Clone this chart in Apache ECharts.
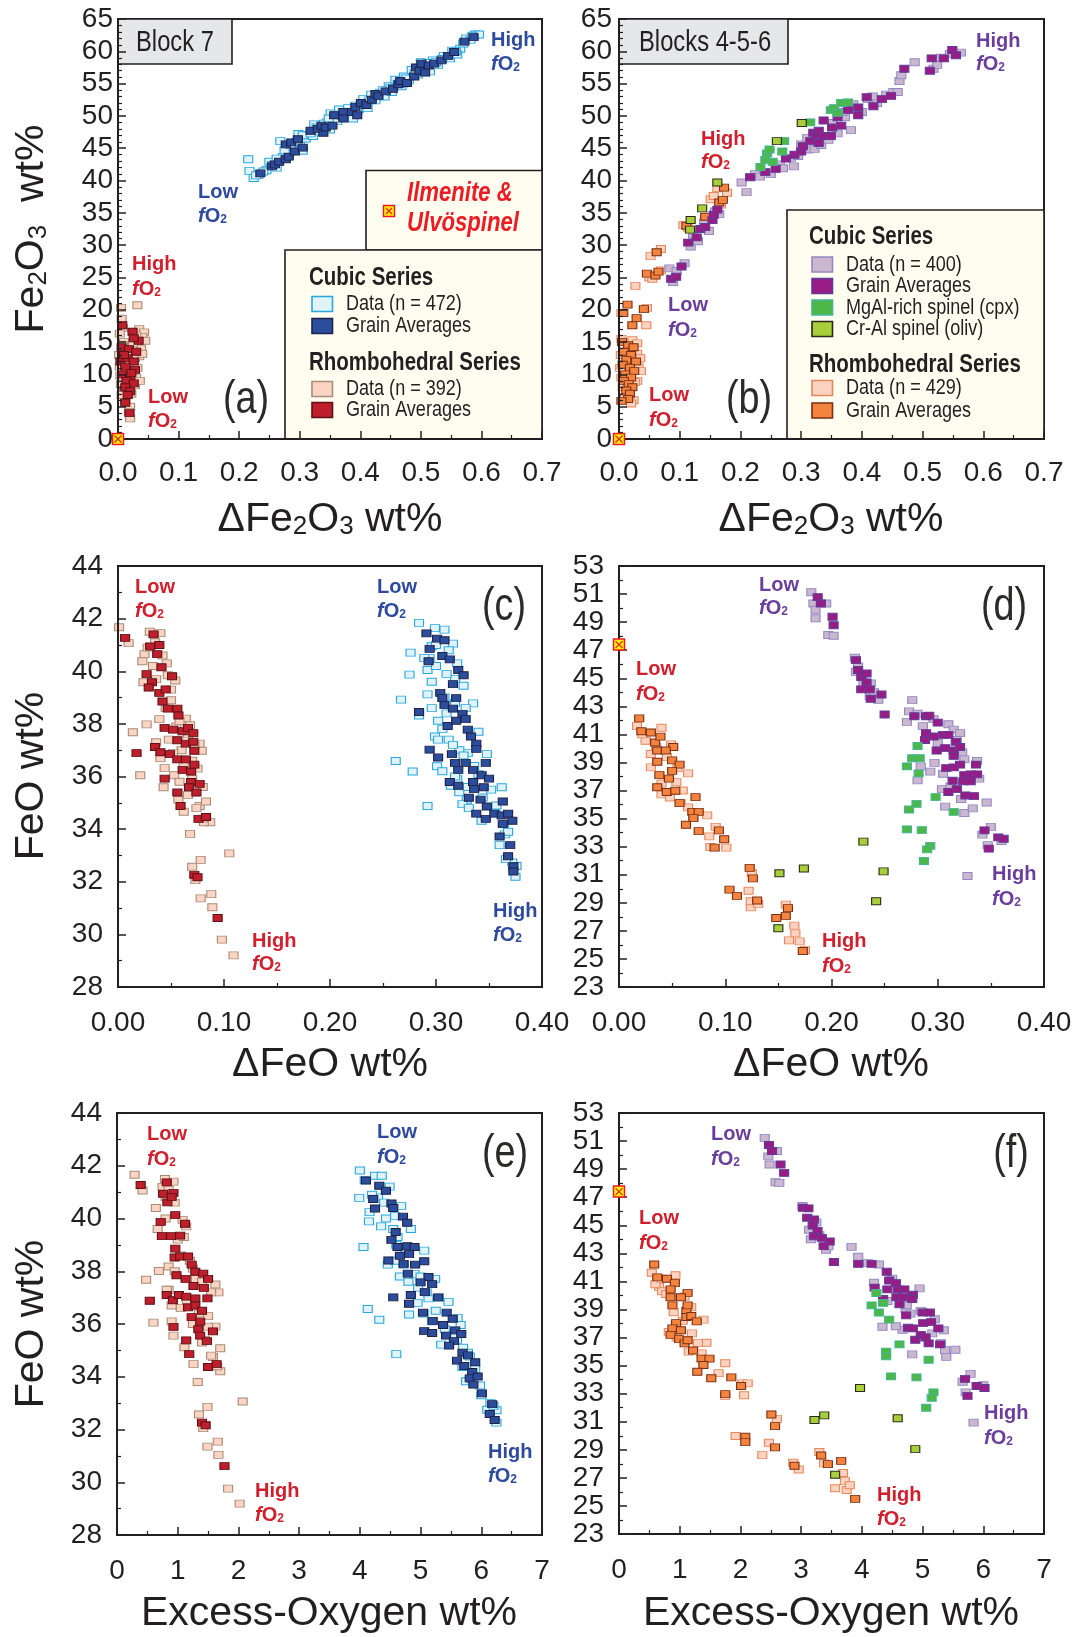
<!DOCTYPE html>
<html>
<head>
<meta charset="utf-8">
<script src="https://cdn.jsdelivr.net/npm/echarts@6/dist/echarts.min.js"></script>
<style>
html,body{margin:0;padding:0;background:#ffffff;}
#chart{width:1076px;height:1637px;}
</style>
</head>
<body>
<div id="chart"></div>
<script>
// ---------- Fonts and colours ----------
const INK = '#231F20';
const SANS = "'Liberation Sans',Arial,Helvetica,sans-serif";
const RED = '#D0202E', BLUE = '#2E4A9E', PURPLE = '#6A3E9C', ILM_RED = '#ED1C24';

// Condensed face for tick labels, keys and tabs; when no narrow face is
// installed the regular face is squeezed horizontally instead.
function fontAvailable(name) {
  const ctx = document.createElement('canvas').getContext('2d');
  const probe = 'Rhombohedral Series 0123456789';
  ctx.font = '40px monospace';
  const w1 = ctx.measureText(probe).width;
  ctx.font = "40px '" + name + "', monospace";
  const w2 = ctx.measureText(probe).width;
  return Math.abs(w1 - w2) > 0.5;
}
const HAS_NARROW = fontAvailable('Liberation Sans Narrow');
const NARROW = HAS_NARROW ? "'Liberation Sans Narrow',sans-serif" : SANS;
const CONDENSE = HAS_NARROW ? 1 : 0.82;
const TICK_FONT = HAS_NARROW ? 30 : 28;

// ---------- Block 7 : Fe2O3 vs dFe2O3 ----------
const blockA_rhombData = [[0.005,20.3],[0.032,20.7],[0.006,18.6],[0.008,17.2],[0.035,17.0],[0.043,16.5],[0.040,15.8],[0.045,15.2],[0.003,16.3],[0.030,16.0],[0.010,15.0],[0.038,14.0],[0.002,13.0],[0.035,12.8],[0.028,12.5],[0.003,11.2],[0.032,11.0],[0.025,10.3],[0.004,9.8],[0.030,9.5],[0.015,9.0],[0.005,8.5],[0.028,8.3],[0.010,7.5],[0.022,7.0],[0.012,6.2],[0.020,5.0],[0.018,4.2],[0.020,3.2],[0.008,14.5],[0.025,14.8],[0.016,12.0],[0.012,10.5],[0.040,13.2],[0.036,9.0],[0.006,6.8]];
const blockA_rhombAvg = [[0.007,17.6],[0.024,16.6],[0.034,15.2],[0.026,15.6],[0.006,14.2],[0.018,13.9],[0.030,13.5],[0.004,12.0],[0.016,12.5],[0.026,12.0],[0.012,11.2],[0.028,10.7],[0.008,10.0],[0.020,9.6],[0.014,9.0],[0.026,8.6],[0.012,8.0],[0.020,7.4],[0.016,6.8],[0.012,5.6],[0.019,4.0],[0.022,10.2],[0.010,13.0]];
const blockA_cubicData = [[0.215,43.3],[0.217,41.5],[0.224,40.4],[0.232,40.9],[0.245,41.6],[0.250,42.9],[0.262,42.0],[0.268,46.1],[0.272,43.6],[0.280,44.2],[0.290,45.3],[0.298,47.2],[0.300,45.8],[0.310,46.5],[0.315,47.0],[0.322,46.9],[0.324,48.7],[0.333,47.6],[0.345,49.0],[0.351,50.4],[0.350,47.9],[0.362,49.2],[0.365,51.0],[0.378,49.9],[0.380,51.2],[0.388,49.6],[0.398,51.1],[0.405,52.6],[0.412,51.2],[0.418,53.3],[0.425,52.4],[0.433,53.6],[0.440,53.0],[0.447,54.6],[0.452,53.7],[0.458,55.6],[0.468,54.6],[0.472,56.1],[0.480,55.5],[0.485,57.1],[0.495,56.4],[0.500,58.3],[0.505,57.4],[0.515,56.9],[0.520,58.6],[0.528,57.9],[0.538,59.3],[0.548,58.9],[0.552,60.1],[0.565,60.4],[0.575,62.0],[0.582,61.8],[0.590,62.6],[0.596,62.6],[0.560,59.5],[0.470,55.0],[0.395,50.8],[0.340,48.8],[0.305,44.6],[0.228,40.8],[0.240,41.4],[0.255,42.4],[0.262,43.4],[0.275,44.7],[0.285,45.5],[0.295,46.0],[0.305,47.0],[0.318,47.3],[0.328,48.2],[0.338,48.3],[0.348,49.6],[0.360,50.2],[0.370,50.0],[0.383,50.6],[0.392,51.6],[0.403,51.8],[0.415,52.4],[0.428,53.2],[0.438,54.0],[0.450,54.3],[0.462,55.0],[0.475,55.8],[0.490,56.6],[0.503,57.6],[0.512,58.2],[0.525,58.3],[0.535,58.8],[0.558,60.0],[0.570,61.2],[0.585,62.4]];
const blockA_cubicAvg = [[0.235,41.1],[0.254,42.2],[0.259,42.5],[0.266,42.9],[0.277,43.3],[0.282,43.7],[0.292,44.5],[0.305,45.1],[0.277,45.6],[0.286,45.9],[0.297,46.4],[0.318,47.7],[0.330,48.0],[0.339,47.4],[0.336,48.5],[0.343,48.2],[0.354,48.5],[0.357,50.1],[0.372,50.6],[0.372,49.6],[0.386,50.6],[0.395,50.1],[0.392,51.4],[0.401,52.0],[0.410,51.7],[0.419,52.5],[0.425,53.4],[0.430,53.1],[0.442,53.8],[0.454,54.2],[0.463,54.9],[0.466,55.4],[0.477,55.1],[0.489,56.1],[0.492,57.5],[0.498,57.0],[0.501,58.1],[0.507,56.7],[0.513,57.8],[0.522,58.1],[0.534,58.6],[0.545,59.3],[0.555,59.9],[0.572,61.5],[0.587,62.2]];
const blockA_ilmenite = [[0, 0]];

// ---------- Blocks 4-5-6 : Fe2O3 vs dFe2O3 ----------
const blockB_rhombData = [[0.004,15.5],[0.022,15.3],[0.030,14.8],[0.003,13.0],[0.030,13.2],[0.035,12.5],[0.002,11.0],[0.032,11.2],[0.036,10.5],[0.004,9.5],[0.030,9.0],[0.006,8.0],[0.026,8.8],[0.014,7.8],[0.010,6.5],[0.024,6.0],[0.020,5.5],[0.004,19.5],[0.046,20.3],[0.045,17.6],[0.027,23.7],[0.050,25.0],[0.069,26.1],[0.055,24.8],[0.052,28.3],[0.069,29.4],[0.106,33.1],[0.114,32.6],[0.151,37.1],[0.156,37.6],[0.162,38.8],[0.178,38.1],[0.168,36.3]];
const blockB_rhombAvg = [[0.005,15.0],[0.015,14.5],[0.024,14.2],[0.008,13.5],[0.020,13.0],[0.012,12.2],[0.028,12.0],[0.006,11.5],[0.018,11.0],[0.025,10.5],[0.010,10.0],[0.020,9.5],[0.008,9.0],[0.016,8.5],[0.022,8.0],[0.012,7.5],[0.018,7.0],[0.015,6.2],[0.004,5.9],[0.014,20.8],[0.007,19.5],[0.022,17.6],[0.029,18.7],[0.041,20.1],[0.046,25.6],[0.060,25.3],[0.065,25.9],[0.062,28.9],[0.111,33.0],[0.142,34.4],[0.165,36.6],[0.171,37.0],[0.173,38.9]];
const blockB_cubicData = [[0.083,26.4],[0.089,24.3],[0.095,26.0],[0.108,27.2],[0.118,29.8],[0.122,31.6],[0.130,30.6],[0.140,33.5],[0.148,32.2],[0.158,35.2],[0.165,34.8],[0.202,39.7],[0.210,38.2],[0.224,41.0],[0.232,40.6],[0.250,41.0],[0.265,42.5],[0.270,41.9],[0.283,43.5],[0.295,43.8],[0.300,45.6],[0.311,44.8],[0.322,44.9],[0.333,45.5],[0.345,46.3],[0.352,48.9],[0.360,47.3],[0.372,49.8],[0.382,47.8],[0.386,51.8],[0.400,50.6],[0.410,52.6],[0.425,52.0],[0.440,53.3],[0.452,53.7],[0.459,53.7],[0.462,55.4],[0.465,56.3],[0.487,58.3],[0.518,57.3],[0.524,57.9],[0.545,59.6],[0.563,59.8],[0.530,59.0],[0.418,53.0],[0.368,50.6],[0.310,46.6],[0.288,42.2]];
const blockB_cubicAvg = [[0.086,24.8],[0.094,25.1],[0.103,26.7],[0.114,30.4],[0.128,31.2],[0.134,32.5],[0.142,32.8],[0.154,33.9],[0.156,34.7],[0.162,35.5],[0.216,40.5],[0.241,41.3],[0.258,41.8],[0.275,43.4],[0.289,44.0],[0.300,44.5],[0.303,45.3],[0.315,46.1],[0.320,47.4],[0.326,47.0],[0.329,45.8],[0.329,47.7],[0.337,46.9],[0.337,49.3],[0.349,46.9],[0.351,48.2],[0.360,49.8],[0.366,48.5],[0.377,50.9],[0.394,50.1],[0.394,51.3],[0.408,52.9],[0.419,51.5],[0.433,52.6],[0.448,53.1],[0.470,57.3],[0.512,57.0],[0.515,58.9],[0.535,58.9],[0.549,60.2],[0.555,59.4]];
const blockB_mgAl = [[0.233,42.1],[0.241,43.2],[0.244,44.2],[0.248,44.8],[0.253,42.9],[0.269,44.5],[0.272,46.1],[0.315,49.0],[0.349,50.9],[0.354,51.2],[0.360,50.5],[0.366,52.0],[0.377,52.1]];
const blockB_crAl = [[0.117,32.4],[0.118,33.9],[0.137,35.7],[0.162,39.7],[0.260,46.1],[0.301,48.9]];
const blockB_ilmenite = [[0, 0]];

// ---------- Block 7 : FeO vs dFeO ----------
const blockC_rhombData = [[0.001,41.67],[0.010,41.07],[0.030,41.50],[0.040,41.45],[0.025,40.65],[0.023,40.38],[0.024,39.58],[0.047,39.85],[0.054,39.65],[0.036,39.70],[0.039,38.18],[0.027,37.98],[0.014,37.68],[0.021,36.05],[0.044,36.32],[0.043,35.59],[0.053,36.05],[0.057,35.12],[0.062,34.66],[0.077,34.88],[0.083,35.05],[0.087,34.26],[0.081,34.26],[0.068,33.82],[0.078,32.83],[0.070,32.57],[0.073,32.06],[0.105,33.08],[0.088,31.53],[0.078,31.37],[0.089,31.03],[0.098,29.80],[0.109,29.20],[0.077,37.25],[0.079,36.98],[0.064,38.20],[0.050,38.90],[0.060,37.00],[0.075,36.30],[0.048,37.40],[0.068,37.95],[0.080,35.60],[0.058,35.80],[0.046,40.30],[0.033,40.20],[0.070,36.60],[0.055,37.90],[0.035,41.10],[0.028,40.90],[0.042,40.60],[0.050,39.30],[0.045,38.60],[0.058,38.10],[0.066,37.60],[0.072,37.20],[0.052,36.90],[0.062,36.40],[0.070,35.90],[0.066,35.30],[0.074,34.80],[0.080,34.40],[0.036,37.30],[0.040,36.70]];
const blockC_rhombAvg = [[0.0067,41.27],[0.0336,41.40],[0.0303,40.94],[0.039,41.0],[0.037,40.65],[0.041,40.15],[0.027,39.89],[0.032,39.58],[0.029,39.38],[0.039,39.18],[0.045,39.31],[0.051,39.81],[0.042,38.85],[0.047,38.58],[0.056,38.58],[0.057,38.32],[0.044,37.85],[0.052,37.78],[0.061,37.72],[0.066,37.85],[0.071,37.65],[0.056,37.38],[0.064,37.25],[0.071,37.32],[0.035,37.12],[0.040,36.92],[0.049,36.85],[0.056,36.65],[0.064,36.65],[0.072,36.98],[0.061,36.25],[0.069,36.19],[0.072,36.45],[0.044,35.92],[0.069,35.79],[0.077,35.72],[0.067,35.59],[0.074,35.39],[0.056,35.39],[0.059,34.88],[0.076,34.39],[0.083,34.46],[0.0175,36.89],[0.072,32.26],[0.075,32.17],[0.094,30.62]];
const blockC_cubicData = [[0.284,41.84],[0.276,40.71],[0.275,39.87],[0.292,40.05],[0.292,39.12],[0.267,38.92],[0.262,36.59],[0.278,36.19],[0.292,34.88],[0.284,38.32],[0.302,38.12],[0.301,36.39],[0.299,37.52],[0.314,35.65],[0.312,37.40],[0.322,35.40],[0.329,35.10],[0.325,34.95],[0.348,36.85],[0.362,35.59],[0.335,38.78],[0.326,39.45],[0.318,39.70],[0.316,41.05],[0.308,41.58],[0.299,41.64],[0.296,40.95],[0.294,40.50],[0.365,33.80],[0.360,33.39],[0.372,32.73],[0.375,32.19],[0.366,32.86],[0.376,32.60],[0.343,34.32],[0.331,34.80],[0.320,35.90],[0.306,36.20],[0.302,37.40],[0.296,38.60],[0.310,39.90],[0.300,41.00],[0.289,40.50],[0.330,36.90],[0.340,37.70],[0.352,35.50],[0.357,34.90],[0.368,33.90],[0.310,38.40],[0.322,37.00],[0.300,40.20],[0.312,40.80],[0.320,40.30],[0.296,39.60],[0.308,39.00],[0.318,38.80],[0.328,38.60],[0.306,37.80],[0.316,37.20],[0.326,36.80],[0.336,36.40],[0.318,36.00],[0.330,35.60],[0.344,35.20],[0.356,34.60],[0.364,34.20],[0.340,36.10]];
const blockC_cubicAvg = [[0.291,41.44],[0.301,41.24],[0.308,41.18],[0.294,40.85],[0.306,40.58],[0.293,40.38],[0.313,40.45],[0.321,40.05],[0.326,39.85],[0.316,39.51],[0.304,39.18],[0.306,38.98],[0.319,38.98],[0.308,38.72],[0.316,38.58],[0.325,38.38],[0.284,38.45],[0.311,37.92],[0.319,38.12],[0.328,38.18],[0.330,37.78],[0.333,37.52],[0.338,37.25],[0.338,37.05],[0.294,37.02],[0.302,36.72],[0.315,36.85],[0.318,36.52],[0.328,36.52],[0.321,36.25],[0.335,36.25],[0.347,36.52],[0.313,35.79],[0.321,35.65],[0.335,35.79],[0.343,36.05],[0.350,35.92],[0.331,35.19],[0.336,35.52],[0.345,35.59],[0.342,35.12],[0.348,34.86],[0.338,34.59],[0.347,34.39],[0.355,34.59],[0.363,35.05],[0.362,34.52],[0.368,34.59],[0.372,34.32],[0.363,34.19],[0.360,33.72],[0.370,33.39],[0.368,32.97],[0.373,32.59],[0.373,32.39]];

// ---------- Blocks 4-5-6 : FeO vs dFeO ----------
const blockD_rhombData = [[0.017,41.59],[0.025,40.55],[0.040,41.47],[0.049,40.29],[0.030,38.65],[0.065,38.22],[0.054,37.60],[0.040,36.73],[0.058,36.10],[0.083,35.23],[0.085,33.73],[0.086,32.98],[0.101,32.93],[0.091,34.41],[0.122,29.86],[0.124,28.67],[0.124,29.11],[0.131,28.92],[0.125,31.11],[0.165,27.37],[0.166,26.82],[0.160,26.32],[0.170,26.25],[0.175,25.62],[0.157,28.87],[0.022,41.00],[0.035,40.10],[0.045,39.40],[0.030,39.60],[0.055,38.60],[0.040,37.50],[0.060,37.00],[0.048,36.50],[0.065,35.80],[0.070,35.20]];
const blockD_rhombAvg = [[0.019,42.14],[0.021,41.22],[0.030,41.14],[0.034,40.42],[0.039,40.84],[0.051,40.10],[0.036,39.85],[0.044,39.85],[0.036,39.05],[0.050,39.15],[0.057,38.85],[0.050,38.40],[0.038,38.10],[0.047,37.85],[0.036,37.23],[0.045,36.90],[0.053,36.98],[0.057,36.10],[0.072,36.53],[0.069,35.48],[0.075,35.48],[0.070,35.03],[0.063,34.56],[0.075,34.11],[0.094,34.16],[0.099,33.53],[0.090,32.93],[0.123,31.49],[0.126,30.74],[0.104,29.94],[0.111,29.49],[0.130,29.16],[0.148,27.92],[0.157,28.07],[0.159,28.62],[0.173,25.57]];
const blockD_cubicData = [[0.181,51.13],[0.183,50.33],[0.185,49.88],[0.185,49.28],[0.195,50.33],[0.197,48.08],[0.202,48.03],[0.222,46.46],[0.225,45.84],[0.223,45.46],[0.230,44.59],[0.237,44.64],[0.236,43.72],[0.244,43.47],[0.276,43.44],[0.273,42.64],[0.271,41.89],[0.281,42.47],[0.286,41.59],[0.296,42.09],[0.310,41.72],[0.315,41.34],[0.321,41.09],[0.323,39.72],[0.325,39.22],[0.297,38.97],[0.293,38.35],[0.281,37.72],[0.284,38.72],[0.337,39.10],[0.339,37.85],[0.304,37.10],[0.307,35.85],[0.325,35.40],[0.333,35.73],[0.346,36.15],[0.350,34.41],[0.342,33.86],[0.347,33.11],[0.328,30.91],[0.360,33.40],[0.322,36.40],[0.300,40.40],[0.318,40.60],[0.305,38.20],[0.312,37.30],[0.330,37.90],[0.240,44.00],[0.229,45.10]];
const blockD_cubicAvg = [[0.187,50.78],[0.190,50.33],[0.201,49.38],[0.202,48.78],[0.223,46.29],[0.225,45.59],[0.228,45.09],[0.233,45.34],[0.233,44.71],[0.228,44.21],[0.236,44.21],[0.247,43.84],[0.237,43.54],[0.250,42.42],[0.278,42.29],[0.289,42.29],[0.292,42.34],[0.300,41.84],[0.289,41.09],[0.296,40.85],[0.305,40.97],[0.310,40.97],[0.317,40.47],[0.288,40.60],[0.307,40.02],[0.299,39.85],[0.315,39.85],[0.321,40.10],[0.315,39.47],[0.321,38.85],[0.336,38.85],[0.308,38.60],[0.315,38.65],[0.325,38.10],[0.331,38.15],[0.337,38.15],[0.314,37.70],[0.324,37.65],[0.331,37.65],[0.310,36.90],[0.318,37.10],[0.326,36.65],[0.334,36.60],[0.344,34.16],[0.357,33.66],[0.362,33.56],[0.348,32.86]];
const blockD_mgAl = [[0.281,40.17],[0.276,39.30],[0.283,39.30],[0.271,38.72],[0.282,38.22],[0.298,36.53],[0.280,36.05],[0.273,35.65],[0.315,35.48],[0.271,34.23],[0.285,34.18],[0.293,33.06],[0.290,32.81],[0.287,31.98]];
const blockD_crAl = [[0.230,33.36],[0.151,31.11],[0.174,31.44],[0.249,31.24],[0.242,29.11],[0.150,27.19]];
const blockD_ilmenite = [[0, 47.4]];

// ---------- Block 7 : FeO vs excess oxygen ----------
const blockE_rhombData = [[0.29,41.66],[0.42,41.06],[0.79,41.50],[0.93,41.40],[0.64,40.40],[0.67,39.60],[1.08,39.95],[1.14,39.70],[0.85,38.18],[0.69,38.01],[0.48,37.68],[0.60,36.05],[0.90,36.10],[0.93,35.56],[1.11,35.12],[1.58,34.75],[1.70,35.08],[1.26,34.48],[1.70,34.21],[1.33,33.80],[1.49,32.86],[1.35,32.57],[1.42,32.05],[2.07,33.06],[1.66,31.54],[1.49,31.35],[1.67,31.04],[1.83,29.76],[2.02,29.19],[1.67,37.20],[1.62,37.50],[1.50,36.30],[1.25,36.00],[1.05,36.60],[0.85,37.30],[1.20,38.40],[1.00,39.20],[0.80,40.00],[1.45,35.40],[1.62,35.90],[1.30,37.70],[0.75,41.20],[0.95,38.00],[0.85,41.10],[0.80,40.80],[0.95,40.60],[1.10,39.30],[1.05,38.60],[1.25,38.10],[1.40,37.60],[1.55,37.20],[1.15,36.90],[1.35,36.40],[1.50,35.90],[1.40,35.30],[1.55,34.80],[1.65,34.40],[0.82,37.30],[0.90,36.70]];
const blockE_rhombAvg = [[0.39,41.27],[0.82,41.37],[0.93,40.97],[0.76,40.94],[0.83,40.61],[0.90,40.81],[0.96,40.13],[1.12,39.80],[0.72,39.87],[0.74,39.33],[0.89,39.33],[1.04,39.35],[0.96,38.86],[0.95,38.52],[1.04,38.56],[1.17,38.56],[1.23,38.25],[0.98,37.85],[1.13,37.71],[1.29,37.98],[1.42,37.91],[1.50,37.71],[1.26,37.44],[1.43,37.37],[0.82,37.10],[0.92,36.90],[1.02,37.10],[1.14,37.04],[1.29,36.97],[1.49,36.97],[1.17,36.63],[1.29,36.70],[1.40,36.50],[1.23,36.26],[1.37,36.09],[0.93,35.89],[1.34,35.80],[1.37,35.56],[1.58,35.72],[1.48,35.35],[1.14,35.38],[1.19,34.86],[1.50,34.37],[1.64,34.48],[0.54,36.88],[1.40,32.26],[1.46,32.16],[1.77,30.61]];
const blockE_cubicData = [[4.00,41.82],[4.08,41.45],[3.99,40.78],[4.16,40.24],[4.15,39.89],[4.25,41.62],[4.36,41.62],[4.49,41.21],[4.68,40.47],[4.84,39.60],[4.06,38.92],[4.13,36.57],[4.32,36.16],[4.60,34.86],[4.46,38.25],[4.66,37.80],[4.81,36.36],[5.06,38.78],[5.24,37.71],[5.19,36.10],[5.46,36.84],[5.34,35.22],[5.61,36.23],[5.66,35.96],[5.78,34.91],[5.81,34.77],[5.69,34.37],[5.87,34.10],[5.75,33.83],[5.98,33.67],[6.10,32.75],[6.25,32.73],[6.25,32.26],[6.20,32.90],[5.84,33.90],[5.60,35.40],[5.37,35.96],[5.13,36.97],[4.96,37.38],[4.72,38.25],[4.55,39.60],[4.43,40.00],[4.30,40.80],[4.90,37.90],[5.30,37.00],[5.50,35.60],[5.05,36.40],[4.60,39.00],[4.20,40.90],[4.40,40.60],[4.58,40.10],[4.35,39.70],[4.62,39.30],[4.75,38.70],[4.58,38.40],[4.80,37.60],[5.00,37.80],[5.10,37.20],[4.95,36.80],[5.25,36.50],[5.40,35.80],[5.55,35.50],[5.70,35.10],[5.90,34.30],[6.00,33.30],[6.15,33.00]];
const blockE_cubicAvg = [[4.10,41.44],[4.32,41.24],[4.43,41.05],[4.22,40.74],[4.25,40.38],[4.52,40.57],[4.55,40.40],[4.71,40.07],[4.78,39.84],[4.59,39.49],[4.52,39.19],[4.62,38.92],[4.78,38.95],[4.90,38.92],[4.66,38.59],[4.81,38.65],[4.47,38.41],[4.91,38.25],[5.06,38.38],[4.72,38.28],[4.79,37.91],[5.13,37.78],[5.00,37.58],[5.19,37.51],[5.07,37.21],[5.29,37.01],[4.55,37.01],[4.84,37.10],[4.81,36.77],[5.04,36.43],[5.20,36.12],[5.43,36.43],[5.53,36.20],[5.37,35.96],[5.06,35.73],[5.19,35.66],[5.42,35.56],[5.57,35.76],[5.67,35.62],[5.55,35.35],[5.47,35.18],[5.69,34.91],[5.60,34.61],[5.78,34.81],[5.90,34.55],[5.72,34.41],[5.85,34.18],[5.81,33.94],[5.94,34.01],[5.87,33.70],[6.01,33.37],[6.18,32.96],[6.14,32.59],[6.22,32.36]];

// ---------- Blocks 4-5-6 : FeO vs excess oxygen ----------
const blockF_rhombData = [[0.54,41.62],[0.66,40.61],[0.93,41.44],[1.08,39.92],[0.71,40.30],[1.19,39.16],[1.39,38.28],[1.44,36.63],[1.36,35.87],[1.75,35.17],[2.03,33.73],[1.75,32.84],[2.12,33.73],[2.06,32.89],[1.92,29.98],[2.36,28.62],[2.47,29.50],[2.60,31.20],[2.87,28.08],[2.96,27.60],[3.30,28.84],[3.38,28.03],[3.69,27.35],[3.72,26.77],[3.56,26.26],[3.75,26.14],[3.80,26.47],[1.64,34.46],[0.60,40.80],[0.78,40.10],[0.90,38.80],[0.82,37.40],[0.95,37.00],[1.05,38.20],[1.20,37.30],[1.30,36.60],[1.15,36.00],[0.70,41.20]];
const blockF_rhombAvg = [[0.58,42.20],[0.63,41.29],[0.79,41.19],[0.92,40.88],[0.85,40.43],[1.13,40.18],[0.85,39.87],[1.02,39.87],[0.88,39.29],[1.11,38.91],[1.13,39.29],[1.11,38.46],[1.19,38.53],[1.28,38.15],[0.94,38.03],[0.88,37.65],[1.02,37.52],[0.85,37.19],[0.99,36.89],[1.08,36.58],[1.13,36.81],[1.22,36.08],[1.36,35.50],[1.49,35.50],[1.39,35.04],[1.29,34.56],[1.52,34.10],[1.85,34.16],[2.01,33.55],[1.75,32.97],[2.51,31.52],[2.57,30.69],[2.08,29.93],[2.08,29.55],[2.57,29.17],[2.89,27.86],[3.33,28.59],[3.44,27.98],[3.66,28.21],[3.89,25.50]];
const blockF_cubicData = [[2.40,51.23],[2.46,49.91],[2.48,49.33],[2.58,48.07],[2.64,48.02],[2.60,50.29],[3.02,46.37],[3.13,44.68],[3.30,44.30],[3.16,44.00],[3.41,43.26],[3.83,43.46],[3.94,42.76],[4.10,42.30],[4.28,42.20],[4.34,37.77],[4.20,40.90],[4.42,39.60],[4.72,39.00],[4.74,39.30],[4.83,35.80],[4.80,38.70],[4.97,38.90],[5.35,37.52],[5.39,35.62],[5.54,36.13],[5.37,36.10],[5.79,34.41],[5.66,33.85],[5.71,33.09],[5.84,30.94],[5.16,37.30],[4.67,37.55],[4.56,37.80],[4.50,41.20],[4.95,40.50],[5.20,38.30],[5.00,37.00],[5.30,36.60],[3.25,45.20],[3.45,43.50],[6.00,33.60]];
const blockF_cubicAvg = [[2.47,50.72],[2.52,50.29],[2.66,49.33],[2.72,48.73],[3.03,46.25],[3.12,46.20],[3.10,45.54],[3.21,45.41],[3.19,44.98],[3.27,44.60],[3.21,44.22],[3.34,44.10],[3.47,43.84],[3.37,43.51],[3.54,42.38],[3.94,42.25],[4.16,42.25],[4.41,41.69],[4.45,41.06],[4.21,40.56],[4.56,40.88],[4.42,40.43],[4.59,40.43],[4.70,40.43],[4.84,40.05],[4.35,39.75],[4.57,39.87],[4.69,39.87],[4.83,39.75],[4.62,39.37],[4.73,38.58],[5.00,38.78],[5.12,38.78],[4.76,37.70],[4.84,37.65],[5.01,38.03],[5.14,38.10],[5.26,37.65],[4.97,37.19],[4.88,36.84],[5.05,37.01],[5.10,36.58],[5.29,36.51],[5.70,34.05],[5.74,32.84],[5.89,33.55],[6.02,33.40]];
const blockF_mgAl = [[4.24,40.17],[4.35,39.47],[4.16,39.29],[4.28,38.78],[4.45,38.28],[4.62,36.51],[4.40,36.00],[4.40,35.67],[5.10,35.42],[4.48,34.23],[4.90,34.16],[5.18,33.09],[5.15,32.71],[5.06,32.00]];
const blockF_crAl = [[3.97,33.40],[3.22,31.12],[3.38,31.45],[4.59,31.25],[4.88,29.05],[3.56,27.22]];
const blockF_ilmenite = [[0, 47.4]];

// ---------- Axis ticks ----------
const oddFeO = [23,25,27,29,31,33,35,37,39,41,43,45,47,49,51,53];
const evenFeO = [24,26,28,30,32,34,36,38,40,42,44,46,48,50,52];

// ---------- Marker styles ----------
const STYLE = {
  cubicData:  {color:'#E1F2F9', borderColor:'#27A8E0'},
  cubicAvg:   {color:'#2C4C9C', borderColor:'#1D2348'},
  rhombData:  {color:'#FBD4C4', borderColor:'#A98C78'},
  rhombAvg:   {color:'#BF1E2D', borderColor:'#5E1114'},
  cubicData2: {color:'#CBB8CF', borderColor:'#9488C4'},
  cubicAvg2:  {color:'#981C86', borderColor:'#5E3D98'},
  mgAl:       {color:'#4DB848', borderColor:'#44B59A'},
  crAl:       {color:'#A8CF3A', borderColor:'#2A2A1C'},
  rhombData2: {color:'#FCD3C1', borderColor:'#E8875D'},
  rhombAvg2:  {color:'#F3843F', borderColor:'#7C2E12'}
};

const GRIDS = [
  {left:118, top:19,   width:424, height:420},
  {left:619, top:19,   width:425, height:420},
  {left:118, top:566,  width:424, height:421},
  {left:619, top:566,  width:425, height:421},
  {left:117, top:1113, width:425, height:422},
  {left:619, top:1113, width:425, height:421}
];

function scatter(data, st, g, z) {
  return {
    type:'scatter', xAxisIndex:g, yAxisIndex:g, data:data, symbol:'rect', symbolSize:[9,7],
    clip:false, silent:true, z:z, animation:false,
    itemStyle:{color:st.color, borderColor:st.borderColor, borderWidth:1, opacity:1}
  };
}
function ilmenite(data, g) {
  return [
    {type:'scatter', xAxisIndex:g, yAxisIndex:g, data:data, symbol:'rect', symbolSize:11, clip:false, silent:true, z:6,
     itemStyle:{color:'#FFF200', borderColor:ILM_RED, borderWidth:1.5, opacity:1}},
    {type:'scatter', xAxisIndex:g, yAxisIndex:g, data:data, symbol:'path://M0,0L10,10M10,0L0,10', symbolSize:7, clip:false, silent:true, z:7,
     itemStyle:{color:'rgba(0,0,0,0)', borderColor:ILM_RED, borderWidth:1.3, opacity:1}}
  ];
}

const series = [].concat(
  scatter(blockA_rhombData, STYLE.rhombData, 0, 2),
  scatter(blockA_rhombAvg, STYLE.rhombAvg, 0, 3),
  scatter(blockA_cubicData, STYLE.cubicData, 0, 2),
  scatter(blockA_cubicAvg, STYLE.cubicAvg, 0, 3),
  ilmenite(blockA_ilmenite, 0),

  scatter(blockB_rhombData, STYLE.rhombData2, 1, 2),
  scatter(blockB_rhombAvg, STYLE.rhombAvg2, 1, 3),
  scatter(blockB_cubicData, STYLE.cubicData2, 1, 2),
  scatter(blockB_cubicAvg, STYLE.cubicAvg2, 1, 3),
  scatter(blockB_mgAl, STYLE.mgAl, 1, 4),
  scatter(blockB_crAl, STYLE.crAl, 1, 4),
  ilmenite(blockB_ilmenite, 1),

  scatter(blockC_rhombData, STYLE.rhombData, 2, 2),
  scatter(blockC_rhombAvg, STYLE.rhombAvg, 2, 3),
  scatter(blockC_cubicData, STYLE.cubicData, 2, 2),
  scatter(blockC_cubicAvg, STYLE.cubicAvg, 2, 3),

  scatter(blockD_rhombData, STYLE.rhombData2, 3, 2),
  scatter(blockD_rhombAvg, STYLE.rhombAvg2, 3, 3),
  scatter(blockD_cubicData, STYLE.cubicData2, 3, 2),
  scatter(blockD_cubicAvg, STYLE.cubicAvg2, 3, 3),
  scatter(blockD_mgAl, STYLE.mgAl, 3, 4),
  scatter(blockD_crAl, STYLE.crAl, 3, 4),
  ilmenite(blockD_ilmenite, 3),

  scatter(blockE_rhombData, STYLE.rhombData, 4, 2),
  scatter(blockE_rhombAvg, STYLE.rhombAvg, 4, 3),
  scatter(blockE_cubicData, STYLE.cubicData, 4, 2),
  scatter(blockE_cubicAvg, STYLE.cubicAvg, 4, 3),

  scatter(blockF_rhombData, STYLE.rhombData2, 5, 2),
  scatter(blockF_rhombAvg, STYLE.rhombAvg2, 5, 3),
  scatter(blockF_cubicData, STYLE.cubicData2, 5, 2),
  scatter(blockF_cubicAvg, STYLE.cubicAvg2, 5, 3),
  scatter(blockF_mgAl, STYLE.mgAl, 5, 4),
  scatter(blockF_crAl, STYLE.crAl, 5, 4),
  ilmenite(blockF_ilmenite, 5)
);

// ---------- Axes ----------
const LINE = {show:true, onZero:false, lineStyle:{color:INK, width:2}};
const TICK = {show:true, inside:true, length:8, lineStyle:{color:INK, width:1.5}};
function minor(n) { return {show:true, splitNumber:n, length:4, lineStyle:{color:INK, width:1.2}}; }
function labelStyle(margin, fmt) {
  return {show:true, margin:margin, color:INK, fontFamily:NARROW, fontSize:TICK_FONT, lineHeight:20,
    formatter:fmt, hideOverlap:false, showMinLabel:true, showMaxLabel:true};
}
function xAxis(g, max, interval, decimals, margin) {
  return {type:'value', gridIndex:g, position:'bottom', min:0, max:max, interval:interval, z:5,
    axisLine:LINE, axisTick:TICK, minorTick:minor(2), splitLine:{show:false}, minorSplitLine:{show:false},
    axisLabel:labelStyle(margin, v => Number(v).toFixed(decimals))};
}
function yAxis(g, min, max, interval, minorSplit, margin) {
  return {type:'value', gridIndex:g, position:'left', min:min, max:max, interval:interval, z:5,
    axisLine:LINE, axisTick:TICK, minorTick:minor(minorSplit), splitLine:{show:false}, minorSplitLine:{show:false},
    axisLabel:labelStyle(margin, v => String(Math.round(v)))};
}
function yAxisOdd(g, margin) {
  return {type:'value', gridIndex:g, position:'left', min:23, max:53, interval:1, z:5,
    axisLine:LINE, axisTick:Object.assign({}, TICK, {customValues:oddFeO}), minorTick:{show:false},
    splitLine:{show:false},
    axisLabel:Object.assign(labelStyle(margin, v => String(Math.round(v))), {customValues:oddFeO})};
}
function yAxisEvenTicks(g) {
  return {type:'value', gridIndex:g, position:'left', min:23, max:53, interval:1, z:5,
    axisLine:{show:false}, axisLabel:{show:false}, splitLine:{show:false}, minorTick:{show:false},
    axisTick:{show:true, inside:true, length:4, customValues:evenFeO, lineStyle:{color:INK, width:1.2}}};
}

const xAxes = [
  xAxis(0, 0.7, 0.1, 1, 24),
  xAxis(1, 0.7, 0.1, 1, 24),
  xAxis(2, 0.4, 0.1, 2, 26),
  xAxis(3, 0.4, 0.1, 2, 26),
  xAxis(4, 7, 1, 0, 26),
  xAxis(5, 7, 1, 0, 26)
];
const yAxes = [
  yAxis(0, 0, 65, 5, 5, 5),
  yAxis(1, 0, 65, 5, 5, 7),
  yAxis(2, 28, 44, 2, 2, 15),
  yAxisOdd(3, 15),
  yAxis(4, 28, 44, 2, 2, 15),
  yAxisOdd(5, 15),
  yAxisEvenTicks(3),
  yAxisEvenTicks(5)
];

// ---------- Text, boxes and legends ----------
const G = [];
function text(x, y, str, st, extra) {
  G.push(Object.assign({type:'text', x:x, y:y, z:20, silent:true,
    style:Object.assign({text:str, fill:INK, align:'left', verticalAlign:'middle'}, st)}, extra || {}));
}
function narrowText(x, y, str, st) {
  text(x, y, str, Object.assign({fontFamily:NARROW}, st), {scaleX:CONDENSE});
}
function box(x, y, w, h, fill, z) {
  G.push({type:'rect', z:z, silent:true, shape:{x:x, y:y, width:w, height:h},
    style:{fill:fill, stroke:INK, lineWidth:1.6}});
}
function swatch(x, y, st) {
  G.push({type:'rect', z:20, silent:true, shape:{x:x, y:y - 7.5, width:20.5, height:15},
    style:{fill:st.color, stroke:st.borderColor, lineWidth:1.6}});
}

// subscripted axis titles
const TITLE_RICH = {
  n:{fontFamily:SANS, fontSize:41, lineHeight:44, verticalAlign:'bottom', fill:INK},
  s:{fontFamily:SANS, fontSize:26, lineHeight:18, verticalAlign:'bottom', fill:INK}
};
function title(x, y, str, rotated) {
  text(x, y, str, {rich:TITLE_RICH, align:'center', fontFamily:SANS, fontSize:41}, rotated ? {rotation:Math.PI / 2} : null);
}
title(330, 518, '{n|\u0394Fe}{s|2}{n|O}{s|3}{n| wt%}');
title(831, 518, '{n|\u0394Fe}{s|2}{n|O}{s|3}{n| wt%}');
title(330, 1063, '{n|\u0394FeO wt%}');
title(831, 1063, '{n|\u0394FeO wt%}');
title(329, 1612, '{n|Excess-Oxygen wt%}');
title(831, 1612, '{n|Excess-Oxygen wt%}');
title(30, 229, '{n|Fe}{s|2}{n|O}{s|3}{n|  wt%}', true);
title(30, 776, '{n|FeO wt%}', true);
title(30, 1324, '{n|FeO wt%}', true);

// panel letters
[['(a)',246,400],['(b)',749,400],['(c)',504,607],['(d)',1004,607],['(e)',505,1154],['(f)',1011,1154]]
  .forEach(p => narrowText(p[1], p[2], p[0], {fontSize:46, align:'center', fill:'#2B2A29'}));

// block name tabs
box(118, 19, 114, 45, '#E6E7E8', 1);
narrowText(136, 43, 'Block 7', {fontSize:29});
box(619, 19, 169, 45, '#E6E7E8', 1);
narrowText(639, 43, 'Blocks 4-5-6', {fontSize:29});

// high / low fO2 annotations
function fo2Rich(color) {
  return {
    i:{fontFamily:SANS, fontSize:20, fontWeight:'bold', fontStyle:'italic', fill:color, lineHeight:22, verticalAlign:'bottom'},
    o:{fontFamily:SANS, fontSize:20, fontWeight:'bold', fill:color, lineHeight:22, verticalAlign:'bottom'},
    s:{fontFamily:SANS, fontSize:12, fontWeight:'bold', fill:color, lineHeight:10, verticalAlign:'bottom'}
  };
}
function note(word, color, x, y1, y2) {
  text(x, y1, word, {fontFamily:SANS, fontSize:20, fontWeight:'bold', fill:color});
  text(x, y2, '{i|f}{o|O}{s|2}', {rich:fo2Rich(color), fontFamily:SANS, fontSize:20, fill:color});
}
note('High', BLUE, 491, 40, 63);
note('Low', BLUE, 198, 192, 215);
note('High', RED, 132, 264, 288);
note('Low', RED, 148, 397, 420);
note('High', PURPLE, 976, 41, 63);
note('High', RED, 701, 139, 161);
note('Low', PURPLE, 668, 305, 329);
note('Low', RED, 649, 395, 419);
note('Low', RED, 135, 587, 610);
note('Low', BLUE, 377, 587, 610);
note('High', RED, 252, 941, 963);
note('High', BLUE, 493, 911, 934);
note('Low', PURPLE, 759, 585, 607);
note('Low', RED, 636, 669, 693);
note('High', PURPLE, 992, 874, 898);
note('High', RED, 822, 941, 965);
note('Low', RED, 147, 1134, 1158);
note('Low', BLUE, 377, 1132, 1156);
note('High', RED, 255, 1491, 1514);
note('High', BLUE, 488, 1452, 1475);
note('Low', PURPLE, 711, 1134, 1158);
note('Low', RED, 639, 1218, 1242);
note('High', PURPLE, 984, 1413, 1437);
note('High', RED, 877, 1495, 1518);

// ilmenite & ulvospinel key
box(366, 170.5, 176, 79.5, '#FFFDF0', 1);
G.push({type:'rect', z:20, silent:true, shape:{x:383.5, y:205.5, width:11, height:11}, style:{fill:'#FFF200', stroke:ILM_RED, lineWidth:1.5}});
G.push({type:'line', z:21, silent:true, shape:{x1:386, y1:208, x2:392, y2:214}, style:{stroke:ILM_RED, lineWidth:1.3}});
G.push({type:'line', z:21, silent:true, shape:{x1:392, y1:208, x2:386, y2:214}, style:{stroke:ILM_RED, lineWidth:1.3}});
narrowText(407, 194, 'Ilmenite &', {fontSize:27, fontWeight:'bold', fontStyle:'italic', fill:ILM_RED});
narrowText(407, 224, 'Ulv\u00f6spinel', {fontSize:27, fontWeight:'bold', fontStyle:'italic', fill:ILM_RED});

// legends
const HEAD = {fontSize:25, fontWeight:'bold'};
const ITEM = {fontSize:22};
box(285, 250, 257, 189, '#FFFDF0', 1);
narrowText(309, 278, 'Cubic Series', HEAD);
swatch(312, 304, STYLE.cubicData);   narrowText(346, 304, 'Data (n = 472)', ITEM);
swatch(312, 326, STYLE.cubicAvg);    narrowText(346, 326, 'Grain Averages', ITEM);
narrowText(309, 363, 'Rhombohedral Series', HEAD);
swatch(312, 389, STYLE.rhombData);   narrowText(346, 389, 'Data (n = 392)', ITEM);
swatch(312, 410, STYLE.rhombAvg);    narrowText(346, 410, 'Grain Averages', ITEM);

box(787, 210, 257, 229, '#FFFDF0', 1);
narrowText(809, 237, 'Cubic Series', HEAD);
swatch(812, 264.5, STYLE.cubicData2); narrowText(846, 264.5, 'Data (n = 400)', ITEM);
swatch(812, 286, STYLE.cubicAvg2);    narrowText(846, 286, 'Grain Averages', ITEM);
swatch(812, 307.5, STYLE.mgAl);       narrowText(846, 307.5, 'MgAl-rich spinel (cpx)', ITEM);
swatch(812, 329, STYLE.crAl);         narrowText(846, 329, 'Cr-Al spinel (oliv)', ITEM);
narrowText(809, 365, 'Rhombohedral Series', HEAD);
swatch(812, 388, STYLE.rhombData2);   narrowText(846, 388, 'Data (n = 429)', ITEM);
swatch(812, 410.5, STYLE.rhombAvg2);  narrowText(846, 410.5, 'Grain Averages', ITEM);

// ---------- Chart ----------
const chart = echarts.init(document.getElementById('chart'), null, {renderer:'canvas', width:1076, height:1637});
chart.setOption({
  backgroundColor:'#ffffff',
  animation:false,
  grid:GRIDS.map(g => Object.assign({show:true, borderColor:INK, borderWidth:2, backgroundColor:'rgba(0,0,0,0)', containLabel:false, outerBoundsMode:'none'}, g)),
  xAxis:xAxes,
  yAxis:yAxes,
  series:series,
  graphic:{elements:G}
});
</script>
</body>
</html>
